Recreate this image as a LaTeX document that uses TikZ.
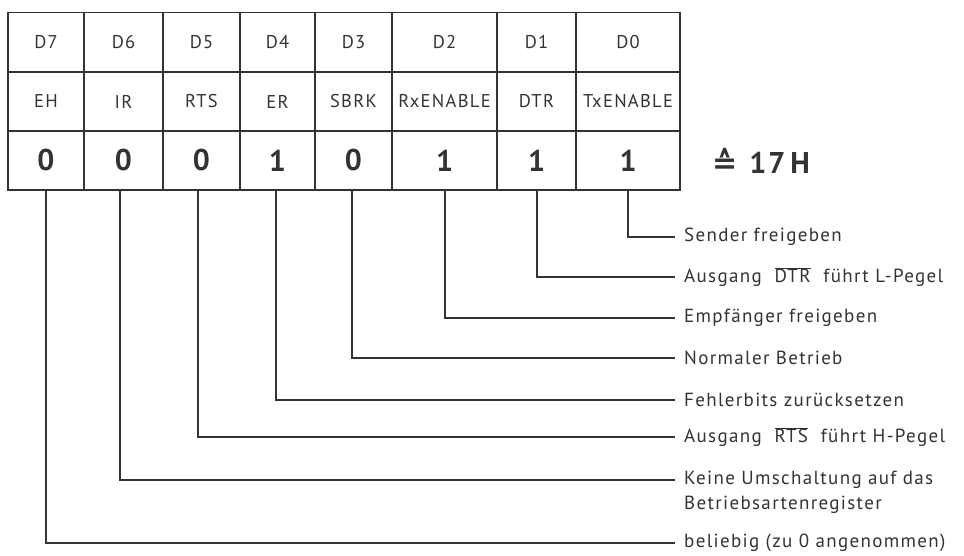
\documentclass[tikz,border=0pt]{standalone}
\usepackage{fontspec}
\setmainfont{PT Sans}[LetterSpace=7]
\newfontfamily\symfont{DejaVu Sans}
\definecolor{ink}{gray}{0.2}
\begin{document}
\begin{tikzpicture}[x=1pt,y=-1pt, every node/.style={text=ink},
  hcell/.style={draw=ink, line width=1.3pt, minimum height=59pt, inner sep=0pt, font=\fontsize{18.5}{18.5}\selectfont},
  vcell/.style={draw=ink, line width=2.2pt, minimum height=59pt, inner sep=0pt, font=\bfseries\fontsize{30}{30}\selectfont},
  lbl/.style={anchor=west, inner xsep=9pt, inner ysep=0pt, font=\fontsize{19}{22}\selectfont},
  leader/.style={draw=ink, line width=1.2pt}]
\useasboundingbox (0,0) rectangle (964,556);
\foreach \n/\c/\w/\d/\s/\v in {7/46/76/D7/EH/0, 6/123.5/79/D6/IR/0, 5/201.5/77/D5/RTS/0, 4/277.5/75/D4/ER/1, 3/353.5/77/D3/SBRK/0, 2/444.5/105/D2/RxENABLE/1, 1/536.5/79/D1/DTR/1, 0/628/104/D0/TxENABLE/1}{
  \node[hcell, minimum width=\w pt] (d\n) at (\c,42) {\d};
  \node[hcell, minimum width=\w pt] (s\n) at (\c,101.5) {\s};
  \node[vcell, minimum width=\w pt] (v\n) at (\c,160.5) {\v};
}
\node[anchor=west, inner sep=0pt] (eq) at (712,161) {{\symfont\bfseries\fontsize{30}{30}\selectfont ≙}\hspace{12pt}{\bfseries\fontsize{30}{30}\selectfont 17\,H}};
\node[lbl] (l0) at (675,237) {Sender freigeben};
\node[lbl] (l1) at (675,277) {Ausgang \ $\overline{\mbox{DTR}}$\ \ führt L-Pegel};
\node[lbl] (l2) at (675,318) {Empfänger freigeben};
\node[lbl] (l3) at (675,358) {Normaler Betrieb};
\node[lbl] (l4) at (675,400) {Fehlerbits zurücksetzen};
\node[lbl] (l5) at (675,437) {Ausgang \ $\overline{\mbox{RTS}}$\ \ führt H-Pegel};
\node[lbl] (l6) at (675,480) {Keine Umschaltung auf das};
\node[lbl] (l6b) at (675,505) {Betriebsartenregister};
\node[lbl] (l7) at (675,543) {beliebig (zu 0 angenommen)};
\foreach \n/\o in {7/0, 6/-3.5, 5/-3.5, 4/-1.5, 3/-1.5, 2/0.5, 1/0.5, 0/0}{
  \draw[leader] ([xshift=\o pt]v\n.south) |- (l\n.west);
}
\end{tikzpicture}
\end{document}
